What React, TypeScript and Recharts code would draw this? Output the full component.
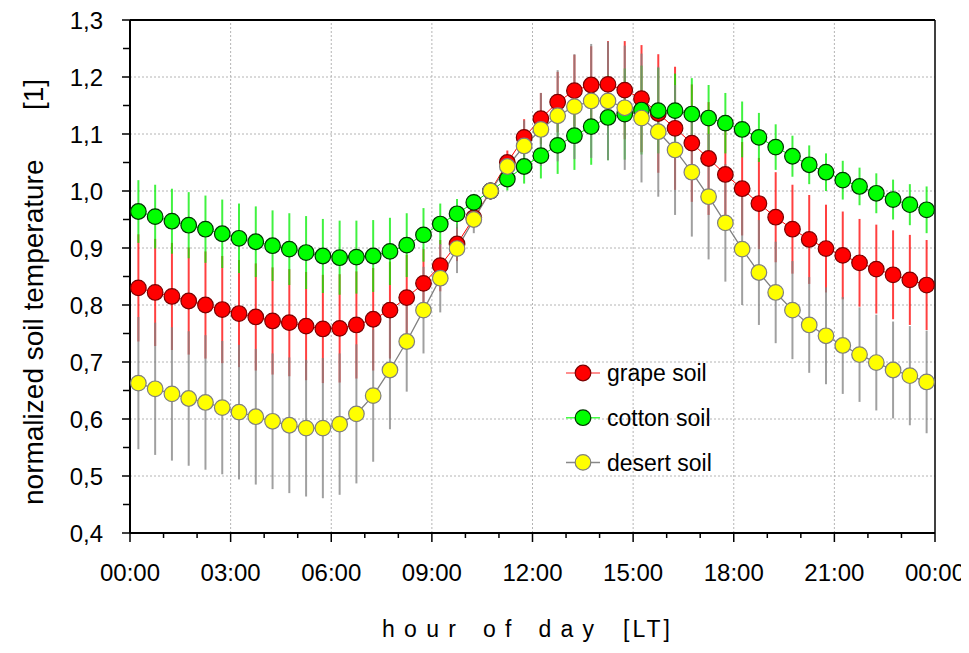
import { ComposedChart, Line, XAxis, YAxis, ErrorBar, ReferenceLine, Legend } from 'recharts';

// half-hour means, 00:15 ... 23:45
const hours = [
    0.25, 0.75, 1.25, 1.75, 2.25, 2.75, 3.25, 3.75, 4.25, 4.75, 5.25, 5.75,
    6.25, 6.75, 7.25, 7.75, 8.25, 8.75, 9.25, 9.75, 10.25, 10.75, 11.25, 11.75,
    12.25, 12.75, 13.25, 13.75, 14.25, 14.75, 15.25, 15.75, 16.25, 16.75, 17.25, 17.75,
    18.25, 18.75, 19.25, 19.75, 20.25, 20.75, 21.25, 21.75, 22.25, 22.75, 23.25, 23.75,
];

const grape = [
    0.830, 0.822, 0.815, 0.807, 0.800, 0.792, 0.785, 0.779, 0.772, 0.769, 0.763, 0.758,
    0.759, 0.765, 0.775, 0.791, 0.813, 0.838, 0.869, 0.907, 0.953, 1.000, 1.050, 1.094,
    1.127, 1.156, 1.176, 1.186, 1.187, 1.177, 1.162, 1.136, 1.110, 1.084, 1.057, 1.029,
    1.004, 0.978, 0.954, 0.933, 0.915, 0.899, 0.887, 0.874, 0.863, 0.853, 0.844, 0.835,
];
const grapeErr = [
    0.094, 0.094, 0.094, 0.094, 0.094, 0.094, 0.094, 0.094, 0.094, 0.094, 0.095, 0.095,
    0.095, 0.094, 0.090, 0.085, 0.075, 0.060, 0.045, 0.030, 0.018, 0.008, 0.021, 0.032,
    0.045, 0.053, 0.063, 0.068, 0.076, 0.086, 0.094, 0.104, 0.108, 0.103, 0.099, 0.090,
    0.082, 0.080, 0.079, 0.078, 0.078, 0.077, 0.077, 0.077, 0.078, 0.078, 0.079, 0.079,
];

const cotton = [
    0.964, 0.955, 0.947, 0.940, 0.933, 0.925, 0.917, 0.911, 0.904, 0.898, 0.892, 0.886,
    0.883, 0.884, 0.886, 0.894, 0.905, 0.923, 0.942, 0.960, 0.980, 1.000, 1.021, 1.043,
    1.062, 1.080, 1.097, 1.113, 1.129, 1.135, 1.142, 1.141, 1.141, 1.135, 1.128, 1.119,
    1.108, 1.094, 1.077, 1.061, 1.046, 1.033, 1.019, 1.008, 0.996, 0.985, 0.976, 0.967,
];
const cottonErr = [
    0.055, 0.056, 0.057, 0.058, 0.059, 0.060, 0.061, 0.062, 0.062, 0.063, 0.064, 0.065,
    0.065, 0.064, 0.063, 0.059, 0.056, 0.047, 0.036, 0.026, 0.015, 0.005, 0.020, 0.030,
    0.040, 0.050, 0.060, 0.067, 0.075, 0.080, 0.078, 0.075, 0.065, 0.063, 0.058, 0.053,
    0.049, 0.043, 0.040, 0.036, 0.034, 0.033, 0.034, 0.033, 0.035, 0.035, 0.036, 0.041,
];

const desert = [
    0.663, 0.653, 0.644, 0.636, 0.629, 0.620, 0.612, 0.604, 0.596, 0.589, 0.584, 0.584,
    0.591, 0.609, 0.641, 0.686, 0.736, 0.791, 0.847, 0.899, 0.950, 1.000, 1.043, 1.079,
    1.108, 1.132, 1.148, 1.158, 1.158, 1.146, 1.128, 1.104, 1.072, 1.033, 0.990, 0.944,
    0.898, 0.857, 0.822, 0.791, 0.765, 0.746, 0.729, 0.713, 0.699, 0.686, 0.676, 0.665,
];
const desertErr = [
    0.116, 0.116, 0.117, 0.118, 0.118, 0.117, 0.118, 0.119, 0.119, 0.119, 0.120, 0.123,
    0.124, 0.122, 0.116, 0.104, 0.088, 0.076, 0.060, 0.043, 0.024, 0.010, 0.020, 0.045,
    0.064, 0.080, 0.092, 0.100, 0.104, 0.109, 0.113, 0.114, 0.114, 0.113, 0.110, 0.103,
    0.098, 0.092, 0.089, 0.086, 0.084, 0.085, 0.085, 0.083, 0.084, 0.085, 0.087, 0.090,
];

const xTicks = [0, 1, 2, 3, 4, 5, 6, 7, 8, 9, 10, 11, 12, 13, 14, 15, 16, 17, 18, 19, 20, 21, 22, 23, 24];
const xGrid = [3, 6, 9, 12, 15, 18, 21];
const yTicks = [0.4, 0.45, 0.5, 0.55, 0.6, 0.65, 0.7, 0.75, 0.8, 0.85, 0.9, 0.95, 1.0, 1.05, 1.1, 1.15, 1.2, 1.25, 1.3];
const yGrid = [0.5, 0.6, 0.7, 0.8, 0.9, 1.0, 1.1, 1.2];

const seriesNames = ['grape soil', 'cotton soil', 'desert soil'];

const FONT = '"Liberation Sans", Arial, sans-serif';

const series = [
    { key: 'grape', err: 'grapeErr', line: '#ff0000', bar: '#ff0000', fill: '#ff0000', edge: '#7a0000', legendLine: '#ff6a6a' },
    { key: 'cotton', err: 'cottonErr', line: '#00ee00', bar: '#00ee00', fill: '#00ff00', edge: '#003300', legendLine: '#44ff44' },
    { key: 'desert', err: 'desertErr', line: '#808080', bar: '#808080', fill: '#ffff00', edge: '#7f7f7f', legendLine: '#888888' },
];

const data = hours.map((t, i) => ({
    t,
    grape: grape[i], grapeErr: grapeErr[i],
    cotton: cotton[i], cottonErr: cottonErr[i],
    desert: desert[i], desertErr: desertErr[i],
}));

const hhmm = (h: number) => `${String(h % 24).padStart(2, '0')}:00`;

function XTick(props: any) {
    const { x, y, payload } = props;
    const h = payload.value;
    const major = h % 3 === 0;
    return (
        <g>
            <line x1={x} x2={x} y1={y} y2={y + (major ? 9 : 5)} stroke="#000" strokeWidth={1.5} />
            {major && (
                <text x={x} y={y + 48} textAnchor="middle" fontSize={24} fontFamily={FONT} fill="#000">
                    {hhmm(h)}
                </text>
            )}
        </g>
    );
}

function YTick(props: any) {
    const { x, y, payload } = props;
    const v = payload.value;
    const major = Math.abs(v * 10 - Math.round(v * 10)) < 1e-6;
    return (
        <g>
            <line x1={x - (major ? 8 : 7)} x2={x} y1={y} y2={y} stroke="#000" strokeWidth={1.5} />
            {major && (
                <text x={x - 27} y={y + 8.5} textAnchor="end" fontSize={24} fontFamily={FONT} fill="#000">
                    {v.toFixed(1).replace('.', ',')}
                </text>
            )}
        </g>
    );
}

// axis titles, placed in chart svg coordinates
function YTitle() {
    return (
        <g fontFamily={FONT} fontSize={28} fill="#000">
            <text transform="translate(35, 497) rotate(-90)">normalized soil temperature</text>
            <text transform="translate(35, 102) rotate(-90)">[1]</text>
        </g>
    );
}

function XTitle() {
    return (
        <g fontFamily={FONT} fontSize={23} fill="#000">
            <text x={374} y={629} letterSpacing={9.3} wordSpacing={2}>hour of day</text>
            <text x={615} y={629} letterSpacing={3}>[LT]</text>
        </g>
    );
}

function LegendBox() {
    return (
        <svg width={200} height={135} style={{ display: 'block' }}>
            {seriesNames.map((name, i) => {
                const cy = 22 + i * 44.7;
                const s = series[i];
                return (
                    <g key={name}>
                        <line x1={0} x2={34} y1={cy} y2={cy} stroke={s.legendLine} strokeWidth={1.5} />
                        <circle cx={17} cy={cy} r={7.8} fill={s.fill} stroke={s.edge} strokeWidth={1.2} />
                        <text x={41} y={cy + 8.4} fontSize={23} fontFamily={FONT} fill="#000">{name}</text>
                    </g>
                );
            })}
        </svg>
    );
}

export default function App() {
    return (
        <div style={{ width: 961, height: 637, fontFamily: FONT }}>
            <ComposedChart width={961} height={637} data={data} margin={{ top: 12, right: 34, bottom: 72, left: 62 }}>
                {xGrid.map(v => (
                    <ReferenceLine key={`gx${v}`} x={v} stroke="#b4b4b4" strokeDasharray="2 2" strokeWidth={1} />
                ))}
                {yGrid.map(v => (
                    <ReferenceLine key={`gy${v}`} y={v} stroke="#b4b4b4" strokeDasharray="2 2" strokeWidth={1} />
                ))}
                <ReferenceLine y={1.3} stroke="#000" strokeWidth={2} />
                <ReferenceLine x={24} stroke="#000" strokeWidth={1.5} />
                <ReferenceLine y={0.4} stroke="#000" strokeWidth={2} />
                <ReferenceLine x={0} stroke="#000" strokeWidth={2} />
                <XAxis
                    type="number"
                    dataKey="t"
                    domain={[0, 24]}
                    ticks={xTicks}
                    interval={0}
                    tick={XTick}
                    tickLine={false}
                    tickSize={0}
                    tickMargin={0}
                    axisLine={{ stroke: '#000', strokeWidth: 2 }}
                    height={40}
                    label={<XTitle />}
                />
                <YAxis
                    type="number"
                    domain={[0.4, 1.3]}
                    ticks={yTicks}
                    interval={0}
                    tick={YTick}
                    tickLine={false}
                    tickSize={0}
                    tickMargin={0}
                    axisLine={{ stroke: '#000', strokeWidth: 2 }}
                    width={60}
                    label={<YTitle />}
                />
                {/* lines and error bars first, so every marker sits on top */}
                {series.map(s => (
                    <Line
                        key={`${s.key}-bars`}
                        dataKey={s.key}
                        stroke={s.line}
                        strokeWidth={s.key === 'desert' ? 1.3 : 1}
                        dot={false}
                        activeDot={false}
                        legendType="none"
                        isAnimationActive={false}
                    >
                        <ErrorBar dataKey={s.err} width={0} stroke={s.bar} strokeWidth={2} strokeOpacity={0.75} direction="y" />
                    </Line>
                ))}
                {series.map((s, i) => (
                    <Line
                        key={`${s.key}-dots`}
                        name={seriesNames[i]}
                        dataKey={s.key}
                        stroke="none"
                        dot={{ r: 7.8, fill: s.fill, stroke: s.edge, strokeWidth: 1.2 }}
                        activeDot={false}
                        isAnimationActive={false}
                    />
                ))}
                <Legend
                    layout="vertical"
                    align="center"
                    verticalAlign="middle"
                    width={200}
                    height={135}
                    wrapperStyle={{ left: 558, top: 343 }}
                    content={() => <LegendBox />}
                />
            </ComposedChart>
        </div>
    );
}
